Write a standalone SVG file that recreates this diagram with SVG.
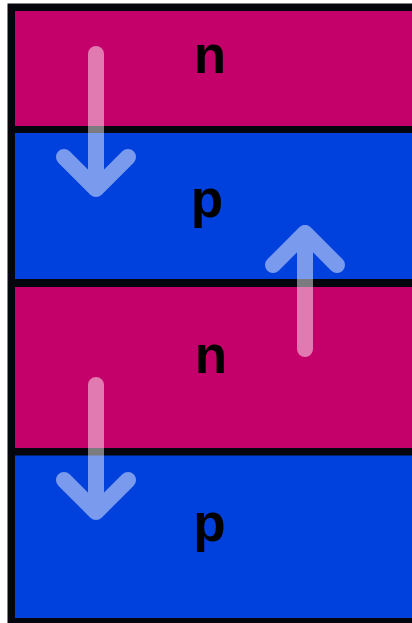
<svg xmlns="http://www.w3.org/2000/svg" width="412" height="623" viewBox="0 0 412 623">
  <style>
    .n { fill: #c4006a; }
    .p { fill: #0040dc; }
    .lbl { font-family: "Liberation Sans", Arial, sans-serif; font-weight: bold; font-size: 53px; fill: #000; text-anchor: middle; }
    .arrow { fill: none; stroke: #fff; stroke-width: 16; stroke-linecap: round; stroke-linejoin: round; }
  </style>
  <rect width="412" height="623" fill="#fff"/>
  <!-- black frame behind the layer stack -->
  <rect x="7.5" y="3.5" width="404.5" height="619.5" fill="#05050d"/>

  <g id="layer-n1">
    <rect class="n" x="15" y="11" width="397" height="115"/>
    <text class="lbl" x="210" y="73">n</text>
  </g>
  <g id="layer-p1">
    <rect class="p" x="15" y="133" width="397" height="146"/>
    <text class="lbl" x="207" y="217">p</text>
  </g>
  <g id="layer-n2">
    <rect class="n" x="15" y="287" width="397" height="161"/>
    <text class="lbl" x="211" y="373">n</text>
  </g>
  <g id="layer-p2">
    <rect class="p" x="15" y="455.5" width="397" height="162.5"/>
    <text class="lbl" x="209.5" y="541">p</text>
  </g>

  <g id="connectors">
    <g opacity="0.48">
      <path class="arrow" d="M96 54 V189 M64 157 L96 189 L128 157"/>
    </g>
    <g opacity="0.48">
      <path class="arrow" d="M305 349 V233 M273 265 L305 233 L337 265"/>
    </g>
    <g opacity="0.48">
      <path class="arrow" d="M96 385 V512 M64 480 L96 512 L128 480"/>
    </g>
  </g>
</svg>
